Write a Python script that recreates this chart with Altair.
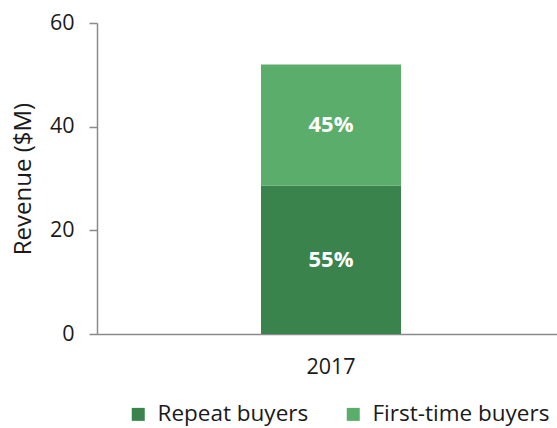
import altair as alt
import pandas as pd

years = ["2017", "2017"]
segments = ["Repeat buyers", "First-time buyers"]
revenue = [28.6, 23.4]
order = [0, 1]
colors = ["#3b834d", "#5aad6a"]
y_ticks = [0, 20, 40, 60]

df = pd.DataFrame({"year": years, "segment": segments, "revenue": revenue, "order": order})

base = (
    alt.Chart(df)
    .transform_joinaggregate(total="sum(revenue)", groupby=["year"])
    .transform_calculate(pct="format(datum.revenue/datum.total, '.0%')")
    .transform_stack(
        stack="revenue",
        as_=["y0", "y1"],
        groupby=["year"],
        sort=[alt.SortField("order", order="ascending")],
    )
    .transform_calculate(mid="(datum.y0 + datum.y1) / 2")
)

x_scale = alt.Scale(paddingInner=0.5625, paddingOuter=0.5, align=0.5125)

x_enc = alt.X(
    "year:N",
    title=None,
    scale=x_scale,
    axis=alt.Axis(
        labelAngle=0,
        ticks=False,
        labelPadding=22,
        labelFontSize=21.5,
        labelColor="#1a1a1a",
        domainColor="#8a8a8a",
        domainWidth=1.5,
    ),
)

bars = base.mark_bar().encode(
    x=x_enc,
    y=alt.Y(
        "y0:Q",
        title="Revenue ($M)",
        scale=alt.Scale(domain=[0, 60]),
        axis=alt.Axis(
            values=y_ticks,
            grid=False,
            tickSize=8,
            tickColor="#8a8a8a",
            tickWidth=1.5,
            domainColor="#8a8a8a",
            domainWidth=1.5,
            labelPadding=15,
            labelFontSize=21.5,
            labelColor="#1a1a1a",
            titleFontSize=24,
            titleFontWeight="normal",
            titleColor="#1a1a1a",
            titlePadding=14,
        ),
    ),
    y2="y1:Q",
    color=alt.Color(
        "segment:N",
        scale=alt.Scale(domain=segments, range=colors),
        sort=segments,
        legend=alt.Legend(
            title=None,
            orient="none",
            legendX=30,
            legendY=380,
            direction="horizontal",
            symbolType="square",
            symbolSize=169,
            symbolStrokeWidth=0,
            symbolOpacity=1,
            labelFontSize=22.5,
            labelColor="#1a1a1a",
            labelOffset=8,
            columnPadding=33,
            labelLimit=300,
        ),
    ),
    order=alt.Order("order:Q"),
)

labels = base.mark_text(
    color="white", fontWeight="bold", fontSize=22, baseline="middle"
).encode(
    x=alt.X("year:N", scale=x_scale),
    y=alt.Y("mid:Q"),
    text="pct:N",
)

chart = (
    alt.layer(bars, labels)
    .properties(
        width=460,
        height=311,
        autosize=alt.AutoSizeParams(type="none"),
        padding={"left": 97, "top": 23, "right": 0, "bottom": 94},
        background="white",
    )
    .configure(font="Open Sans")
    .configure_view(stroke=None)
)

chart.save("out.html", embed_options={"renderer": "svg", "actions": False})
